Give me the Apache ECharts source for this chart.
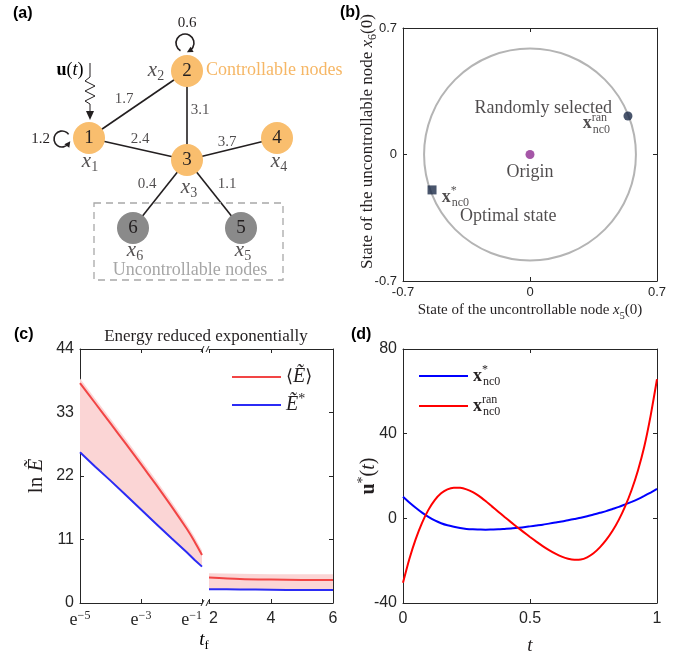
<!DOCTYPE html>
<html>
<head>
<meta charset="utf-8">
<script src="https://cdn.jsdelivr.net/npm/echarts@6.0.0/dist/echarts.min.js"></script>
<style>
html,body{margin:0;padding:0;background:#ffffff;}
#chart{width:695px;height:655px;}
</style>
</head>
<body>
<div id="chart"></div>
<script>
// ===================== DATA =====================
// (a) network
const nodeNames = ['1', '2', '3', '4', '5', '6'];
const nodeIsControllable = [true, true, true, true, false, false];
const edgeFrom = ['1', '2', '1', '3', '3', '3'];
const edgeTo = ['2', '3', '3', '4', '5', '6'];
const edgeWeights = ['1.7', '3.1', '2.4', '3.7', '1.1', '0.4'];
const selfLoopWeights = ['1.2', '0.6'];

// (b) initial states of uncontrollable nodes
const bPointNames = ['Origin', 'Randomly selected', 'Optimal state'];
const bX5 = [0, 0.54, -0.54];
const bX6 = [0, 0.213, -0.196];
const bCircle = [0, 0, 0.585];          // centre x5, centre x6, radius
const bTickStep = 0.7;

// (c) ln energy vs t_f
const cLnT = [-5, -4.5, -4, -3.5, -3, -2.5, -2, -1.5, -1.25, -1];
const cMeanLeft  = [38.1, 34.6, 31.1, 27.6, 24.05, 20.45, 16.75, 12.85, 10.7, 8.3];
const cUpperLeft = [38.9, 35.4, 31.9, 28.4, 24.85, 21.25, 17.55, 13.65, 11.5, 9.1];
const cOptLeft   = [26.1, 23.6, 21.2, 18.7, 16.2, 13.7, 11.2, 8.8, 7.5, 6.3];
const cTf = [2, 3, 4, 5, 6];
const cMeanRight  = [4.4, 4.15, 4.05, 4.0, 4.0];
const cUpperRight = [5.15, 5.05, 5.0, 5.0, 5.0];
const cOptRight   = [2.4, 2.35, 2.3, 2.25, 2.25];

// (d) optimal input u*(t)
const dT = [0, 0.025, 0.05, 0.075, 0.1, 0.125, 0.15, 0.175, 0.2, 0.225, 0.25,
            0.275, 0.3, 0.325, 0.35, 0.375, 0.4, 0.425, 0.45, 0.475, 0.5,
            0.525, 0.55, 0.575, 0.6, 0.625, 0.65, 0.675, 0.7, 0.725, 0.75,
            0.775, 0.8, 0.825, 0.85, 0.875, 0.9, 0.925, 0.95, 0.975, 1];
const dUOpt = [10.2, 7.5, 5.0, 2.7, 0.7, -1.0, -2.3, -3.3, -4.0, -4.6, -5.0,
               -5.2, -5.3, -5.4, -5.3, -5.2, -5.0, -4.8, -4.5, -4.2, -3.8,
               -3.4, -3.0, -2.5, -2.0, -1.5, -0.9, -0.3, 0.3, 1.0, 1.8,
               2.6, 3.4, 4.4, 5.4, 6.6, 7.8, 9.1, 10.6, 12.2, 13.9];
const dURan = [-30.4, -19.2, -9.8, -2.1, 4.0, 8.6, 11.8, 13.7, 14.45, 14.4, 13.7,
               12.4, 10.5, 8.15, 5.65, 3.15, 0.65, -1.8, -4.2, -6.5, -8.8,
               -11.0, -13.1, -15.0, -16.7, -18.1, -19.1, -19.6, -19.5, -18.4, -16.5,
               -13.7, -10.2, -5.9, -0.6, 5.8, 13.4, 22.6, 33.9, 48.5, 65.7];

// ===================== LAYOUT / STYLE =====================
const layoutA = {          // panel (a) positions in its own (hidden) axis units
  nodeX: [89, 187, 187, 277, 241, 133],
  nodeY: [138, 71, 160, 138, 228, 228],
  varX: [90, 156, 189, 279, 243, 135],
  varY: [161, 70, 187, 161, 250, 250],
  edgeLabelX: [124, 200, 140, 227, 227, 147],
  edgeLabelY: [99, 110, 139, 142, 184, 184]
};
const annB = {             // panel (b) annotation anchors, data units
  ranText: [0.452, 0.257], ranSym: [0.441, 0.172],
  origin: [0, -0.097],
  optSym: [-0.487, -0.235], optText: [-0.386, -0.340]
};

const SANS = '"Liberation Sans", Arial, Helvetica, sans-serif';
const SERIF = '"Liberation Serif", "Times New Roman", Times, serif';
const INK = '#231f20';
const AX = '#262626';
const ORANGE = '#f9be6e';
const GREY = '#8a8a8a';
const PINK = '#fbd5d5';
const zip = (a, b) => a.map((v, i) => [v, b[i]]);

function mathRich(size, color) {
  const c = color || INK;
  const s = Math.round(size * 0.68);
  return {
    rm: {fontFamily: SERIF, fontSize: size, color: c, lineHeight: size + 6, align: 'left'},
    it: {fontFamily: SERIF, fontStyle: 'italic', fontSize: size, color: c, lineHeight: size + 6, align: 'left'},
    bx: {fontFamily: SERIF, fontWeight: 'bold', fontSize: size, color: c, lineHeight: size + 6, align: 'left'},
    sub: {fontFamily: SERIF, fontSize: s, color: c, lineHeight: 6, verticalAlign: 'bottom', align: 'left'},
    sup: {fontFamily: SERIF, fontSize: s, color: c, lineHeight: 8, verticalAlign: 'top', align: 'left'},
    supk: {fontFamily: SERIF, fontSize: s, color: c, lineHeight: 8, verticalAlign: 'top', width: 1, align: 'left'},
    ang: {fontFamily: '"DejaVu Serif", serif', fontSize: size - 2, color: c, lineHeight: size + 6, align: 'left'}
  };
}

function ax(o) {
  return {
    type: 'value', gridIndex: o.grid, position: o.pos,
    min: o.min, max: o.max, interval: o.interval,
    axisLine: {show: true, onZero: false, lineStyle: {color: AX, width: 1}},
    axisTick: {show: true, inside: true, length: 4, lineStyle: {color: AX, width: 1}},
    axisLabel: {
      show: o.labels !== false, color: AX, fontFamily: SANS, fontSize: o.fs || 16,
      margin: o.margin || 6, formatter: o.fmt, rich: o.rich,
      alignMinLabel: o.alignMin, alignMaxLabel: o.alignMax,
      showMinLabel: true, showMaxLabel: true, hideOverlap: false
    },
    splitLine: {show: false},
    name: o.name, nameLocation: 'middle', nameGap: o.nameGap, nameRotate: o.nameRotate,
    nameTextStyle: o.nameStyle, nameMoveOverlap: false
  };
}
const fmt1 = v => String(Number(v.toFixed(2)));

function bandSeries(xIdx, yIdx, xs, lo, hi) {
  return {
    type: 'custom', xAxisIndex: xIdx, yAxisIndex: yIdx, silent: true, z: 1, clip: true,
    data: xs.map((x, i) => [x, lo[i], hi[i]]),
    encode: {x: 0, y: [1, 2]},
    renderItem: (params, api) => {
      if (params.dataIndex !== 0) return;
      const top = xs.map((x, i) => api.coord([x, hi[i]]));
      const bot = xs.map((x, i) => api.coord([x, lo[i]])).reverse();
      return {type: 'polygon', shape: {points: top.concat(bot)}, style: {fill: PINK}};
    }
  };
}

// ===================== DECORATIONS =====================
function loopGraphics(cx, cy, r, a0, a1, arrowAtEnd) {
  const g = [{type: 'arc', shape: {cx, cy, r, startAngle: a0, endAngle: a1, clockwise: true},
              style: {stroke: INK, lineWidth: 1.6, fill: null}, z: 100}];
  const th = arrowAtEnd ? a1 : a0;
  const px = cx + r * Math.cos(th), py = cy + r * Math.sin(th);
  let dx = -Math.sin(th), dy = Math.cos(th);
  if (!arrowAtEnd) { dx = -dx; dy = -dy; }
  const nx = -dy, ny = dx;
  g.push({type: 'polygon', shape: {points: [
    [px + dx * 3, py + dy * 3],
    [px - dx * 3 + nx * 3, py - dy * 3 + ny * 3],
    [px - dx * 3 - nx * 3, py - dy * 3 - ny * 3]]},
    style: {fill: INK}, z: 100});
  return g;
}
const deg = Math.PI / 180;
const wavy = [[90, 63], [90, 77], [85, 81], [95, 86], [85, 91], [95, 96], [85, 101], [90, 104], [90, 112]];

const graphics = [
  {type: 'text', left: 13, top: 6, style: {text: '(a)', font: 'bold 16px ' + SANS, fill: '#000'}, z: 100},
  {type: 'text', left: 340, top: 5, style: {text: '(b)', font: 'bold 16px ' + SANS, fill: '#000'}, z: 100},
  {type: 'text', left: 14, top: 327, style: {text: '(c)', font: 'bold 16px ' + SANS, fill: '#000'}, z: 100},
  {type: 'text', left: 351, top: 327, style: {text: '(d)', font: 'bold 16px ' + SANS, fill: '#000'}, z: 100},
  // input arrow
  {type: 'polyline', shape: {points: wavy}, style: {stroke: INK, lineWidth: 1, fill: null}, z: 100},
  {type: 'polygon', shape: {points: [[86, 111], [94, 111], [90, 120]]}, style: {fill: INK}, z: 100},
  {type: 'text', x: 70, y: 70, style: {text: '{bx|u}{rm|(}{it|t}{rm|)}', rich: mathRich(18), align: 'center', verticalAlign: 'middle'}, z: 100},
  // self loop labels
  {type: 'text', x: 50, y: 139, style: {text: selfLoopWeights[0], font: '15px ' + SERIF, fill: INK, align: 'right', verticalAlign: 'middle'}, z: 100},
  {type: 'text', x: 187, y: 23, style: {text: selfLoopWeights[1], font: '15px ' + SERIF, fill: INK, align: 'center', verticalAlign: 'middle'}, z: 100},
  // group captions
  {type: 'text', x: 206, y: 70, style: {text: 'Controllable nodes', font: '18px ' + SERIF, fill: '#f6b766', align: 'left', verticalAlign: 'middle'}, z: 100},
  {type: 'rect', shape: {x: 94, y: 203, width: 189, height: 77}, style: {fill: null, stroke: '#a8a8a8', lineWidth: 1.3, lineDash: [7, 5]}, z: 100},
  {type: 'text', x: 190, y: 270, style: {text: 'Uncontrollable nodes', font: '18px ' + SERIF, fill: '#a6a6a6', align: 'center', verticalAlign: 'middle'}, z: 100},
  // panel (c) title, x label, axis break marks
  {type: 'text', x: 206, y: 337, style: {text: 'Energy reduced exponentially', font: '17px ' + SERIF, fill: INK, align: 'center', verticalAlign: 'middle'}, z: 100},
  {type: 'text', x: 204, y: 640, style: {text: '{it|t}{sub|f}', rich: mathRich(19), align: 'center', verticalAlign: 'middle'}, z: 100},
  {type: 'line', shape: {x1: 201, y1: 352, x2: 204, y2: 346}, style: {stroke: AX, lineWidth: 1}, z: 100},
  {type: 'line', shape: {x1: 206, y1: 352, x2: 209, y2: 346}, style: {stroke: AX, lineWidth: 1}, z: 100},
  {type: 'line', shape: {x1: 201, y1: 606, x2: 204, y2: 600}, style: {stroke: AX, lineWidth: 1}, z: 100},
  {type: 'line', shape: {x1: 206, y1: 606, x2: 209, y2: 600}, style: {stroke: AX, lineWidth: 1}, z: 100}
].concat(
  loopGraphics(62, 139, 8, 35 * deg, 325 * deg, false),
  loopGraphics(185, 43, 9, 120 * deg, 420 * deg, true)
);

// ===================== OPTION =====================
const option = {
  animation: false,
  backgroundColor: '#ffffff',
  grid: [
    {left: 0, top: 0, width: 350, height: 300, outerBoundsMode: 'none'},
    {left: 403, top: 28, width: 254, height: 253, outerBoundsMode: 'none'},
    {left: 80, top: 349, width: 122, height: 254, outerBoundsMode: 'none'},
    {left: 209, top: 349, width: 124, height: 254, outerBoundsMode: 'none'},
    {left: 403, top: 349, width: 254, height: 254, outerBoundsMode: 'none'}
  ],
  xAxis: [
    {type: 'value', gridIndex: 0, min: 0, max: 350, show: false},
    ax({grid: 1, pos: 'bottom', min: -0.7, max: 0.7, interval: bTickStep, fs: 13, margin: 5, fmt: fmt1,
        name: '{rm|State of the uncontrollable node }{it|x}{sub|5}{rm|(0)}', nameGap: 19,
        nameStyle: {rich: mathRich(15)}}),
    ax({grid: 1, pos: 'top', min: -0.7, max: 0.7, interval: bTickStep, labels: false}),
    ax({grid: 2, pos: 'bottom', min: -5, max: -1, interval: 2, margin: 7, alignMax: 'right',
        fmt: v => '{e|e}{s|\u2212' + (-v) + '}',
        rich: {e: {fontFamily: SERIF, fontSize: 18, color: AX, lineHeight: 20, align: 'left'},
               s: {fontFamily: SERIF, fontSize: 12, color: AX, lineHeight: 8, verticalAlign: 'top', align: 'left'}}}),
    ax({grid: 2, pos: 'top', min: -5, max: -1, interval: 2, labels: false}),
    ax({grid: 3, pos: 'bottom', min: 2, max: 6, interval: 2, margin: 8, alignMin: 'left'}),
    ax({grid: 3, pos: 'top', min: 2, max: 6, interval: 2, labels: false}),
    ax({grid: 4, pos: 'bottom', min: 0, max: 1, interval: 0.5, margin: 8, fmt: fmt1,
        name: '{it|t}', nameGap: 30, nameStyle: {rich: mathRich(19)}}),
    ax({grid: 4, pos: 'top', min: 0, max: 1, interval: 0.5, labels: false})
  ],
  yAxis: [
    {type: 'value', gridIndex: 0, min: 0, max: 300, inverse: true, show: false},
    ax({grid: 1, pos: 'left', min: -0.7, max: 0.7, interval: bTickStep, fs: 13, margin: 6, fmt: fmt1,
        name: '{rm|State of the uncontrollable node }{it|x}{sub|6}{rm|(0)}', nameGap: 24, nameRotate: 90,
        nameStyle: {rich: mathRich(17), padding: [0, 0, 0, 26]}}),
    ax({grid: 1, pos: 'right', min: -0.7, max: 0.7, interval: bTickStep, labels: false}),
    ax({grid: 2, pos: 'left', min: 0, max: 44, interval: 11, margin: 6,
        name: '{rm|ln }{it|\u1EBC}', nameGap: 30, nameRotate: 90, nameStyle: {rich: mathRich(21)}}),
    ax({grid: 3, pos: 'right', min: 0, max: 44, interval: 11, labels: false}),
    ax({grid: 4, pos: 'left', min: -40, max: 80, interval: 40, margin: 6,
        name: '{bx|u}{sup|*}{rm|(}{it|t}{rm|)}', nameGap: 21, nameRotate: 90, nameStyle: {rich: mathRich(20)}}),
    ax({grid: 4, pos: 'right', min: -40, max: 80, interval: 40, labels: false})
  ],
  legend: [
    {
      data: [{name: 'Emean', icon: 'rect'}, {name: 'Eopt', icon: 'rect'}],
      orient: 'vertical', left: 232, top: 367, padding: 0,
      itemWidth: 49, itemHeight: 2, itemGap: 5, selectedMode: false,
      formatter: n => n === 'Emean' ? '{ang|\u27E8}{it|\u1EBC}{ang|\u27E9}' : '{it|\u1EBC}{sup|*}',
      textStyle: {rich: mathRich(20)}
    },
    {
      data: [{name: 'xopt', icon: 'rect'}, {name: 'xran', icon: 'rect'}],
      orient: 'vertical', left: 419, top: 364, padding: 0,
      itemWidth: 49, itemHeight: 2, itemGap: 6, selectedMode: false,
      formatter: n => n === 'xopt' ? '{bx|x}{supk|*}{sub|nc0}' : '{bx|x}{supk|ran}{sub|nc0}',
      textStyle: {rich: mathRich(18)}
    }
  ],
  series: [
    // ----- (a) network -----
    {
      type: 'graph', coordinateSystem: 'cartesian2d', xAxisIndex: 0, yAxisIndex: 0,
      symbol: 'circle', symbolSize: 32, silent: true, z: 5,
      data: nodeNames.map((n, i) => ({
        name: n, value: [layoutA.nodeX[i], layoutA.nodeY[i]],
        itemStyle: {color: nodeIsControllable[i] ? ORANGE : GREY}
      })),
      links: edgeFrom.map((s, i) => ({source: s, target: edgeTo[i]})),
      lineStyle: {color: INK, width: 1.6, opacity: 1, curveness: 0},
      label: {show: true, position: 'inside', formatter: '{b}', fontFamily: SERIF, fontSize: 19, color: INK}
    },
    {
      type: 'scatter', xAxisIndex: 0, yAxisIndex: 0, symbolSize: 0, silent: true, z: 6,
      data: edgeWeights.map((w, i) => ({value: [layoutA.edgeLabelX[i], layoutA.edgeLabelY[i]], name: w})),
      label: {show: true, position: 'inside', formatter: '{b}', fontFamily: SERIF, fontSize: 15, color: INK}
    },
    {
      type: 'scatter', xAxisIndex: 0, yAxisIndex: 0, symbolSize: 0, silent: true, z: 6,
      data: nodeNames.map((n, i) => ({value: [layoutA.varX[i], layoutA.varY[i]], name: n})),
      label: {show: true, position: 'inside', formatter: p => '{it|x}{sub|' + p.name + '}', rich: mathRich(21)}
    },
    // ----- (b) -----
    {
      type: 'custom', xAxisIndex: 1, yAxisIndex: 1, silent: true, z: 2,
      data: [bCircle],
      renderItem: (params, api) => {
        const c = api.coord([api.value(0), api.value(1)]);
        const ex = api.coord([api.value(0) + api.value(2), api.value(1)]);
        const ey = api.coord([api.value(0), api.value(1) + api.value(2)]);
        const r = ((ex[0] - c[0]) + (c[1] - ey[1])) / 2;
        return {type: 'circle', shape: {cx: c[0], cy: c[1], r: r},
                style: {fill: 'none', stroke: '#b4b4b4', lineWidth: 2}};
      }
    },
    {
      type: 'scatter', xAxisIndex: 1, yAxisIndex: 1, silent: true, z: 5,
      data: bPointNames.map((n, i) => ({
        name: n, value: [bX5[i], bX6[i]],
        symbol: i === 2 ? 'rect' : 'circle',
        symbolSize: 9,
        itemStyle: {color: i === 0 ? '#8e2c91' : '#1c2b47'}
      }))
    },
    {
      type: 'scatter', xAxisIndex: 1, yAxisIndex: 1, symbolSize: 0, silent: true, z: 6,
      data: [
        {value: annB.ranText, label: {position: 'left', distance: 0, formatter: '{rm|Randomly selected}'}},
        {value: annB.ranSym, label: {position: 'left', distance: 0, formatter: '{bx|x}{supk|ran}{sub|nc0}'}},
        {value: annB.origin, label: {position: 'inside', formatter: '{rm|Origin}'}},
        {value: annB.optSym, label: {position: 'right', distance: 0, formatter: '{bx|x}{supk|*}{sub|nc0}'}},
        {value: annB.optText, label: {position: 'right', distance: 0, formatter: '{rm|Optimal state}'}}
      ],
      label: {show: true, rich: mathRich(18)}
    },
    // ----- (c) left -----
    bandSeries(3, 3, cLnT, cOptLeft, cUpperLeft),
    {
      type: 'line', name: 'Emean', xAxisIndex: 3, yAxisIndex: 3, symbol: 'none', smooth: 0.2, silent: true,
      data: zip(cLnT, cMeanLeft), lineStyle: {color: '#f24545', width: 2}, itemStyle: {color: '#f24545'}
    },
    {
      type: 'line', name: 'Eopt', xAxisIndex: 3, yAxisIndex: 3, symbol: 'none', silent: true,
      data: zip(cLnT, cOptLeft), lineStyle: {color: '#2b2bf5', width: 2}, itemStyle: {color: '#2b2bf5'}
    },
    // ----- (c) right -----
    bandSeries(5, 4, cTf, cOptRight, cUpperRight),
    {
      type: 'line', name: 'Emean', xAxisIndex: 5, yAxisIndex: 4, symbol: 'none', smooth: 0.3, silent: true,
      data: zip(cTf, cMeanRight), lineStyle: {color: '#f24545', width: 2}, itemStyle: {color: '#f24545'}
    },
    {
      type: 'line', name: 'Eopt', xAxisIndex: 5, yAxisIndex: 4, symbol: 'none', smooth: 0.3, silent: true,
      data: zip(cTf, cOptRight), lineStyle: {color: '#2b2bf5', width: 2}, itemStyle: {color: '#2b2bf5'}
    },
    // ----- (d) -----
    {
      type: 'line', name: 'xopt', xAxisIndex: 7, yAxisIndex: 5, symbol: 'none', smooth: 0.2, silent: true,
      data: zip(dT, dUOpt), lineStyle: {color: '#0000ff', width: 2}, itemStyle: {color: '#0000ff'}
    },
    {
      type: 'line', name: 'xran', xAxisIndex: 7, yAxisIndex: 5, symbol: 'none', smooth: 0.2, silent: true,
      data: zip(dT, dURan), lineStyle: {color: '#ff0000', width: 2}, itemStyle: {color: '#ff0000'}
    }
  ],
  graphic: graphics
};

const chart = echarts.init(document.getElementById('chart'), null, {renderer: 'canvas'});
chart.setOption(option);
</script>
</body>
</html>
